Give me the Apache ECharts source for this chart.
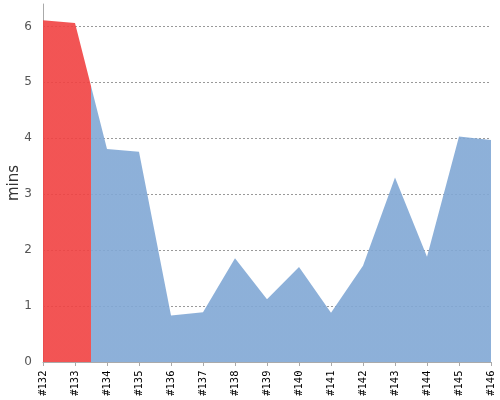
<!DOCTYPE html>
<html><head><meta charset="utf-8">
<script src="https://cdn.jsdelivr.net/npm/echarts@6/dist/echarts.min.js"></script>
<style>html,body{margin:0;padding:0;background:#fff}#c{width:500px;height:400px}#e{position:absolute;left:0;top:0;font:10px monospace;white-space:pre-wrap;width:500px}</style>
</head><body><div id="c"></div><div id="e"></div>
<script>
const categories = ['#132','#133','#134','#135','#136','#137','#138','#139','#140','#141','#142','#143','#144','#145','#146'];
const minsValues = [6.11, 6.06, 3.81, 3.76, 0.83, 0.89, 1.855, 1.12, 1.70, 0.88, 1.72, 3.30, 1.88, 4.03, 3.97];
const redUntilIndex = 1.5;
const yAxisName = 'mins';

const seriesData = minsValues.map((v, i) => [i, v]);

const chart = echarts.init(document.getElementById('c'), null, {renderer: 'canvas'});
try {
chart.setOption({
  animation: false,
  grid: {left: 43, right: 9, top: 4, bottom: 38, containLabel: false, outerBoundsMode: 'none'},
  visualMap: {
    show: false,
    type: 'piecewise',
    dimension: 0,
    seriesIndex: 0,
    pieces: [
      {min: 0, max: redUntilIndex, color: '#f14242'},
      {min: redUntilIndex, max: categories.length, color: '#81a8d5'}
    ]
  },
  xAxis: {
    type: 'value',
    min: 0, max: categories.length - 1, interval: 1,
    offset: 1.5,
    axisLine: {show: true, lineStyle: {color: '#aaa', width: 1}},
    axisTick: {show: true, length: 4, lineStyle: {color: '#aaa'}},
    axisLabel: {rotate: 90, margin: 7, color: '#000', fontSize: 10.5, fontFamily: 'DejaVu Sans Mono',
      formatter: v => categories[v] || ''},
    splitLine: {show: false}
  },
  yAxis: {
    type: 'value',
    min: 0, max: 6.4, interval: 1,
    offset: 3,
    name: yAxisName,
    nameLocation: 'middle',
    nameGap: 18,
    nameMoveOverlap: false,
    nameTextStyle: {fontSize: 15, color: '#333', fontFamily: 'DejaVu Sans'},
    axisLine: {show: true, lineStyle: {color: '#aaa', width: 1}},
    axisTick: {show: false},
    axisLabel: {showMaxLabel: false, color: '#555', fontSize: 12, margin: 8, fontFamily: 'DejaVu Sans'},
    splitLine: {show: true, showMaxLine: false, showMinLine: false, lineStyle: {color: '#999', type: [2, 2], width: 1}}
  },
  series: [{
    type: 'line',
    data: seriesData,
    symbol: 'none',
    lineStyle: {width: 0},
    areaStyle: {opacity: 0.9}
  }]
});
} catch (err) {
  document.getElementById('e').textContent = String(err && err.stack);
}
</script></body></html>
